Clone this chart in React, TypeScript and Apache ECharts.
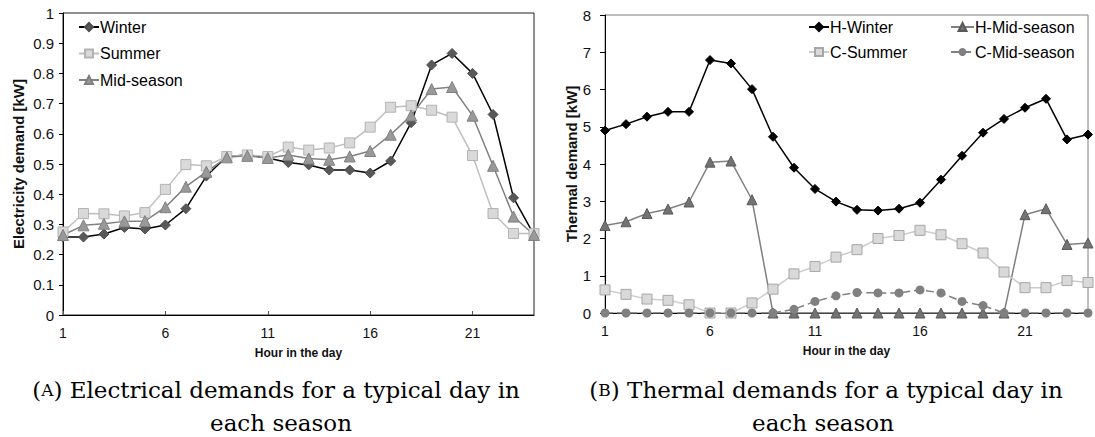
import React, { useEffect, useRef } from "react";
import * as echarts from "echarts";

const hours = ["1","2","3","4","5","6","7","8","9","10","11","12","13","14","15","16","17","18","19","20","21","22","23","24"];

// (A) Electricity demand [kW]
const winterElec = [0.258,0.258,0.268,0.29,0.285,0.298,0.352,0.46,0.525,0.53,0.52,0.505,0.497,0.48,0.48,0.47,0.51,0.637,0.828,0.866,0.8,0.664,0.388,0.265];
const summerElec = [0.275,0.336,0.335,0.328,0.339,0.416,0.498,0.494,0.525,0.53,0.525,0.556,0.546,0.553,0.57,0.622,0.688,0.693,0.678,0.655,0.528,0.336,0.27,0.27];
const midElec = [0.265,0.297,0.302,0.31,0.311,0.357,0.425,0.474,0.522,0.527,0.52,0.53,0.518,0.514,0.525,0.543,0.597,0.661,0.748,0.755,0.66,0.494,0.326,0.265];

// (B) Thermal demand [kW]
const hWinter = [4.9,5.07,5.27,5.4,5.4,6.79,6.7,6.01,4.73,3.9,3.33,2.99,2.77,2.75,2.8,2.96,3.58,4.22,4.84,5.21,5.51,5.75,4.66,4.79];
const hMid = [2.35,2.45,2.67,2.79,2.98,4.05,4.08,3.04,0,0,0,0,0,0,0,0,0,0,0,0,2.64,2.8,1.84,1.88];
const cSummer = [0.62,0.5,0.375,0.34,0.22,0,0,0.27,0.64,1.05,1.25,1.5,1.7,2.0,2.08,2.22,2.1,1.86,1.61,1.1,0.68,0.68,0.87,0.82];
const cMid = [0,0,0,0,0,0,0,0,0,0.1,0.31,0.46,0.55,0.54,0.54,0.62,0.54,0.31,0.2,0,0,0,0,0];

const SANS = "Liberation Sans";
const SERIF = "DejaVu Serif";

function xAxisFor(gridIndex: number) {
  return {
    type: "category",
    gridIndex,
    data: hours,
    boundaryGap: false,
    axisLine: { show: true, lineStyle: { color: "#000", width: 1 } },
    axisTick: { show: true, inside: true, length: 4, interval: 4, alignWithLabel: true, lineStyle: { color: "#555" } },
    axisLabel: { interval: 4, margin: 11, fontSize: 14, fontFamily: SANS, color: "#111" },
    name: "Hour in the day",
    nameLocation: "middle",
    nameGap: 32,
    nameTextStyle: { fontSize: 12, fontWeight: "bold", fontFamily: SANS, color: "#111" },
    splitLine: { show: false },
  };
}

export default function App() {
  const ref = useRef<HTMLDivElement>(null);
  useEffect(() => {
    if (!ref.current) return;
    const chart = echarts.init(ref.current, undefined, { renderer: "svg" });
    const capRich = {
      p: { fontSize: 23, fontFamily: SERIF, fill: "#000" },
      s: { fontSize: 17, fontFamily: SERIF, fill: "#000" },
    };
    const legendText = { fontSize: 16, fontFamily: SANS, color: "#000", padding: [0, 0, 0, -4] };
    const option: any = {
      animation: false,
      backgroundColor: "#fff",
      grid: [
        { left: 63, top: 13, width: 471, height: 302, show: true, borderColor: "#222", borderWidth: 1, backgroundColor: "transparent" },
        { left: 605, top: 15, width: 483, height: 298, show: true, borderColor: "#808080", borderWidth: 1, backgroundColor: "transparent" },
      ],
      xAxis: [xAxisFor(0), xAxisFor(1)],
      yAxis: [
        {
          type: "value", gridIndex: 0, min: 0, max: 1, interval: 0.1,
          axisLine: { show: true, lineStyle: { color: "#000" } },
          axisTick: { show: true, length: 4, lineStyle: { color: "#000" } },
          axisLabel: { margin: 9, fontSize: 15, fontFamily: SANS, color: "#111", formatter: (v: number) => String(Math.round(v * 10) / 10) },
          splitLine: { show: false },
          name: "Electricity demand [kW]", nameLocation: "middle", nameGap: 37,
          nameTextStyle: { fontSize: 15, fontWeight: "bold", fontFamily: SANS, color: "#111" },
        },
        {
          type: "value", gridIndex: 1, min: 0, max: 8, interval: 1,
          axisLine: { show: true, lineStyle: { color: "#000" } },
          axisTick: { show: true, length: 5, lineStyle: { color: "#000" } },
          axisLabel: { margin: 14, fontSize: 15, fontFamily: SANS, color: "#111" },
          splitLine: { show: false },
          name: "Thermal demand [kW]", nameLocation: "middle", nameGap: 26,
          nameTextStyle: { fontSize: 15, fontWeight: "bold", fontFamily: SANS, color: "#111" },
        },
      ],
      legend: [
        {
          data: ["Winter", "Summer", "Mid-season"], orient: "vertical", left: 78, top: 19, padding: 0,
          itemWidth: 20, itemHeight: 10, itemGap: 10.5, textStyle: legendText,
        },
        {
          data: ["H-Winter", "C-Summer"], orient: "vertical", left: 808, top: 19, padding: 0,
          itemWidth: 20, itemHeight: 10, itemGap: 9, textStyle: legendText,
        },
        {
          data: ["H-Mid-season", "C-Mid-season"], orient: "vertical", left: 950, top: 19, padding: 0,
          itemWidth: 23, itemHeight: 10, itemGap: 9, textStyle: legendText,
        },
      ],
      series: [
        {
          name: "Winter", type: "line", xAxisIndex: 0, yAxisIndex: 0, data: winterElec,
          symbol: "diamond", symbolSize: 10,
          lineStyle: { color: "#000", width: 1.5 },
          itemStyle: { color: "#595959", borderColor: "#4d4d4d", borderWidth: 1 },
        },
        {
          name: "Summer", type: "line", xAxisIndex: 0, yAxisIndex: 0, data: summerElec,
          symbol: "rect", symbolSize: 10,
          lineStyle: { color: "#bfbfbf", width: 1.5 },
          itemStyle: { color: "#d9d9d9", borderColor: "#b3b3b3", borderWidth: 1 },
        },
        {
          name: "Mid-season", type: "line", xAxisIndex: 0, yAxisIndex: 0, data: midElec,
          symbol: "triangle", symbolSize: 11,
          lineStyle: { color: "#808080", width: 1.5 },
          itemStyle: { color: "#999999", borderColor: "#808080", borderWidth: 1 },
        },
        {
          name: "H-Winter", type: "line", xAxisIndex: 1, yAxisIndex: 1, data: hWinter,
          symbol: "diamond", symbolSize: 9,
          lineStyle: { color: "#000", width: 1.5 },
          itemStyle: { color: "#000", borderColor: "#000", borderWidth: 1 },
        },
        {
          name: "H-Mid-season", type: "line", xAxisIndex: 1, yAxisIndex: 1, data: hMid,
          symbol: "triangle", symbolSize: 10,
          lineStyle: { color: "#808080", width: 1.5 },
          itemStyle: { color: "#737373", borderColor: "#595959", borderWidth: 1 },
        },
        {
          name: "C-Summer", type: "line", xAxisIndex: 1, yAxisIndex: 1, data: cSummer,
          symbol: "rect", symbolSize: 10,
          lineStyle: { color: "#cccccc", width: 1.5 },
          itemStyle: { color: "#d9d9d9", borderColor: "#a6a6a6", borderWidth: 1 },
        },
        {
          name: "C-Mid-season", type: "line", xAxisIndex: 1, yAxisIndex: 1, data: cMid,
          symbol: "circle", symbolSize: 9,
          lineStyle: { color: "#808080", width: 1.5, type: [8, 4] },
          itemStyle: { color: "#808080", borderColor: "#808080", borderWidth: 0 },
        },
      ],
      graphic: [
        {
          id: "capA1", type: "text", x: 276, y: 390,
          style: { text: "{p|(}{s|A}{p|) Electrical demands for a typical day in}", align: "center", verticalAlign: "middle", rich: capRich },
        },
        {
          id: "capA2", type: "text", x: 281, y: 423,
          style: { text: "each season", align: "center", verticalAlign: "middle", fontSize: 23, fontFamily: SERIF, fill: "#000" },
        },
        {
          id: "capB1", type: "text", x: 826, y: 390,
          style: { text: "{p|(}{s|B}{p|) Thermal demands for a typical day in}", align: "center", verticalAlign: "middle", rich: capRich },
        },
        {
          id: "capB2", type: "text", x: 823, y: 423,
          style: { text: "each season", align: "center", verticalAlign: "middle", fontSize: 23, fontFamily: SERIF, fill: "#000" },
        },
      ],
    };
    chart.setOption(option);
    return () => chart.dispose();
  }, []);
  return (
    <div
      ref={ref}
      style={{ position: "absolute", left: 0, top: 0, width: 1095, height: 437, background: "#fff" }}
    />
  );
}
